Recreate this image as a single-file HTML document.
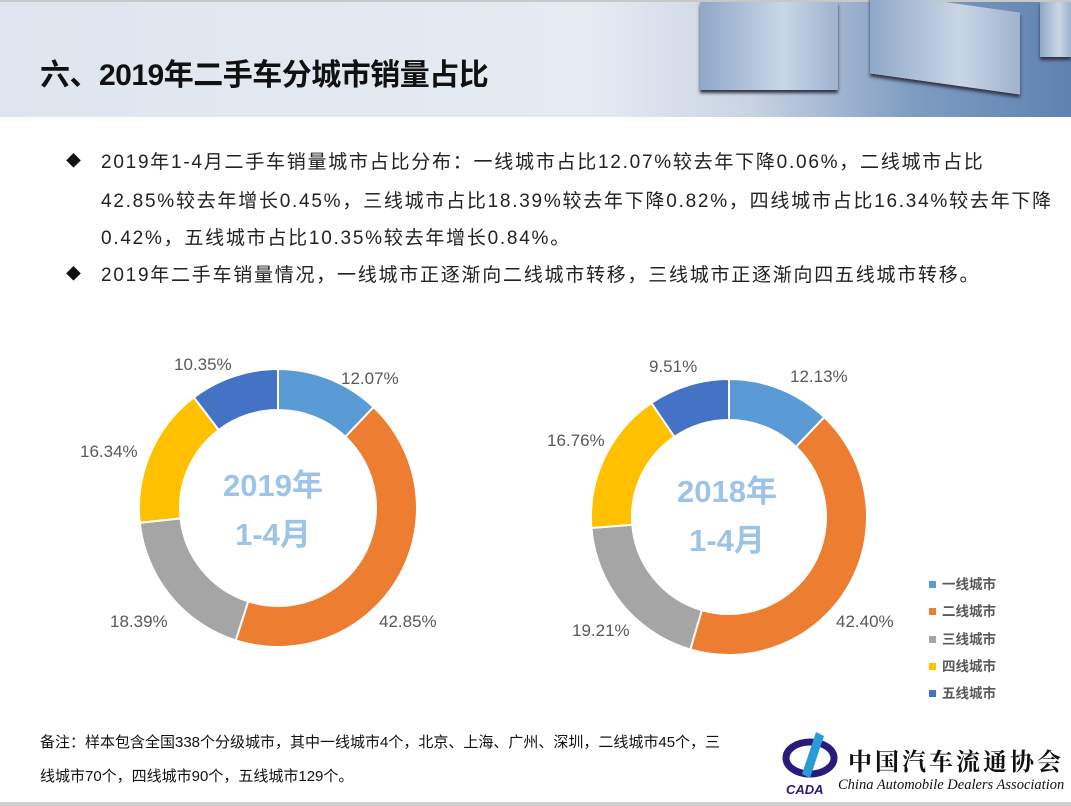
<!DOCTYPE html>
<html><head><meta charset="utf-8"><style>
body{margin:0;width:1071px;height:806px;position:relative;overflow:hidden;background:#fff;font-family:"Liberation Sans","Noto Sans CJK SC",sans-serif;}
#hdr{position:absolute;left:0;top:0;width:1071px;height:117px;background:linear-gradient(90deg,#dfe5ee 0%,#e6ebf2 55%,#c9d4e3 70%,#7f9dc2 85%,#5f82b0 100%);border-top:2px solid #c8c8c8;box-sizing:border-box}
.blk{position:absolute;background:linear-gradient(90deg,#8fa8c8,#c9d6e6 60%,#9fb3cf);}
#title{position:absolute;left:40px;top:50px;font-size:30px;font-weight:bold;color:#111;letter-spacing:-0.5px}
.p{position:absolute;left:101px;font-size:19px;letter-spacing:1.75px;color:#222;white-space:nowrap}
.d{position:absolute;left:66px;font-size:15px;color:#111}
.lab{font-size:17px;fill:#595959}
.cen{font-size:31px;font-weight:bold;fill:#9dc3e6}
.lg{position:absolute;left:929px;font-size:13.5px;font-weight:bold;color:#595959}
.lg i{display:inline-block;width:7px;height:7px;margin-right:6px;vertical-align:1px}
.note{position:absolute;left:40px;font-size:15px;color:#111;white-space:nowrap}
#bot{position:absolute;left:0;top:802px;width:1071px;height:4px;background:#d0d0d0}
</style></head><body>
<div id="hdr">
<div class="blk" style="left:700px;top:0;width:138px;height:88px;box-shadow:0 3px 3px #334"></div>
<div class="blk" style="left:870px;top:0;width:150px;height:82px;transform:skewY(8deg);box-shadow:0 3px 3px #334"></div>
<div class="blk" style="left:1040px;top:0;width:31px;height:55px;box-shadow:0 3px 3px #334"></div>
</div>
<div id="title">六、2019年二手车分城市销量占比</div>
<div class="d" style="top:150px">◆</div><div class="d" style="top:263px">◆</div>
<div class="p" style="top:147px">2019年1-4月二手车销量城市占比分布：一线城市占比12.07%较去年下降0.06%，二线城市占比</div>
<div class="p" style="top:186px">42.85%较去年增长0.45%，三线城市占比18.39%较去年下降0.82%，四线城市占比16.34%较去年下降</div>
<div class="p" style="top:223px">0.42%，五线城市占比10.35%较去年增长0.84%。</div>
<div class="p" style="top:260px">2019年二手车销量情况，一线城市正逐渐向二线城市转移，三线城市正逐渐向四五线城市转移。</div>
<svg id="s" width="1071" height="806" style="position:absolute;left:0;top:0">
<text class="lab" x="341" y="384">12.07%</text>
<text class="lab" x="379" y="627">42.85%</text>
<text class="lab" x="110" y="627">18.39%</text>
<text class="lab" x="80" y="457">16.34%</text>
<text class="lab" x="174" y="370">10.35%</text>
<text class="lab" x="790" y="382">12.13%</text>
<text class="lab" x="836" y="627">42.40%</text>
<text class="lab" x="572" y="636">19.21%</text>
<text class="lab" x="547" y="446">16.76%</text>
<text class="lab" x="649" y="372">9.51%</text>
<text class="cen" x="273" y="496" text-anchor="middle">2019年</text>
<text class="cen" x="273" y="545" text-anchor="middle">1-4月</text>
<text class="cen" x="727" y="502" text-anchor="middle">2018年</text>
<text class="cen" x="727" y="551" text-anchor="middle">1-4月</text>
</svg>
<div class="lg" style="top:573px"><i style="background:#5b9bd5"></i>一线城市</div>
<div class="lg" style="top:600px"><i style="background:#ed7d31"></i>二线城市</div>
<div class="lg" style="top:628px"><i style="background:#a5a5a5"></i>三线城市</div>
<div class="lg" style="top:655px"><i style="background:#ffc000"></i>四线城市</div>
<div class="lg" style="top:682px"><i style="background:#4472c4"></i>五线城市</div>
<div class="note" style="top:731px">备注：样本包含全国338个分级城市，其中一线城市4个，北京、上海、广州、深圳，二线城市45个，三</div>
<div class="note" style="top:765px">线城市70个，四线城市90个，五线城市129个。</div>
<svg width="70" height="70" style="position:absolute;left:780px;top:728px">
<ellipse cx="30" cy="30" rx="24" ry="16" fill="none" stroke="#2a1a7a" stroke-width="7"/>
<path d="M36 4 L44 8 L30 50 L22 46 Z" fill="#2b9bd8"/>
<text x="6" y="66" font-size="13" font-weight="bold" font-style="italic" fill="#2a1a7a">CADA</text>
</svg>
<div style="position:absolute;left:848px;top:742px;font-size:24px;font-family:'Noto Serif CJK SC',serif;font-weight:bold;letter-spacing:3px;color:#111;white-space:nowrap">中国汽车流通协会</div>
<div style="position:absolute;left:838px;top:777px;font-size:14.5px;font-style:italic;font-family:'Liberation Serif',serif;color:#111;white-space:nowrap">China Automobile Dealers Association</div>
<div id="bot"></div>
<script>
var cols=["#5b9bd5","#ed7d31","#a5a5a5","#ffc000","#4472c4"];
function donut(cx,cy,R,r,vals){
 var s=document.getElementById("s"),tot=vals.reduce((a,b)=>a+b),a=0,h="";
 vals.forEach(function(v,i){
  var a0=a/tot*2*Math.PI,a1=(a+v)/tot*2*Math.PI;a+=v;
  function pt(rr,t){return [cx+rr*Math.sin(t),cy-rr*Math.cos(t)];}
  var p1=pt(R,a0),p2=pt(R,a1),p3=pt(r,a1),p4=pt(r,a0),lg=(a1-a0)>Math.PI?1:0;
  h+='<path d="M'+p1+' A'+R+','+R+' 0 '+lg+' 1 '+p2+' L'+p3+' A'+r+','+r+' 0 '+lg+' 0 '+p4+'Z" fill="'+cols[i]+'" stroke="#fff" stroke-width="2"/>';
 });
 s.insertAdjacentHTML("afterbegin",h);
}
donut(278,508,139,98,[12.07,42.85,18.39,16.34,10.35]);
donut(729,517,138,97,[12.13,42.40,19.21,16.76,9.51]);
</script>
</body></html>
